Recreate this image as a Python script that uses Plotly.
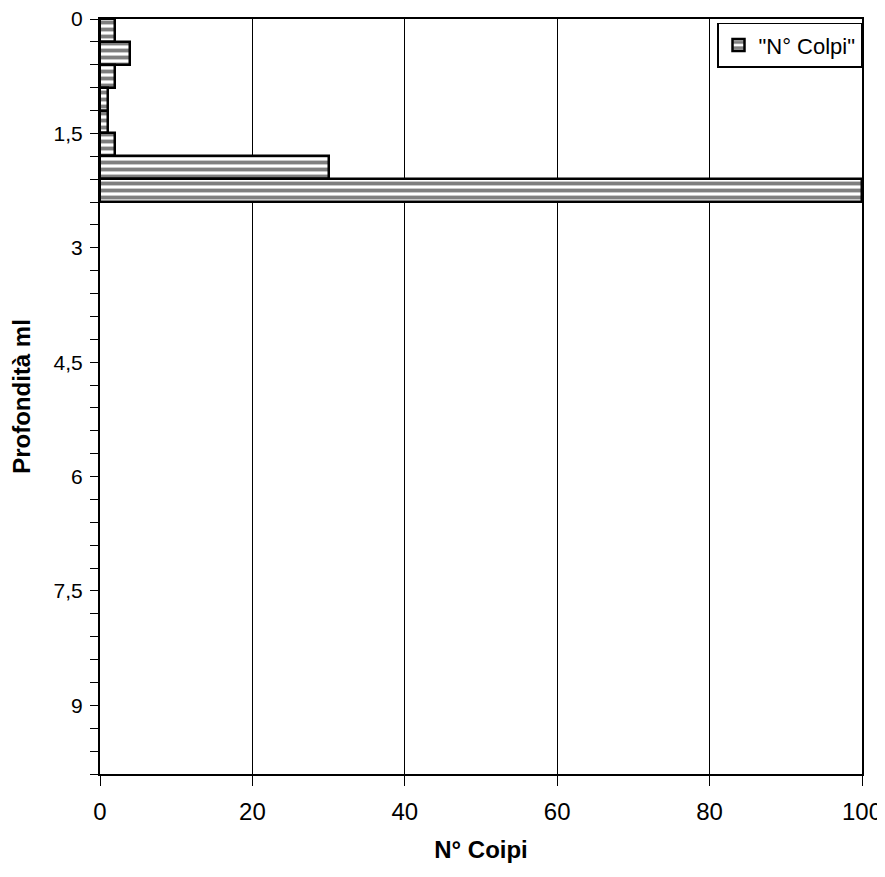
import plotly.graph_objects as go

depth_top = [0.0, 0.3, 0.6, 0.9, 1.2, 1.5, 1.8, 2.1]
blows = [2, 4, 2, 1, 1, 2, 30, 100]
step = 0.3
y_ticks = [0, 1.5, 3, 4.5, 6, 7.5, 9]
y_ticktext = ["0", "1,5", "3", "4,5", "6", "7,5", "9"]
x_ticks = [0, 20, 40, 60, 80, 100]

centers = [d + step / 2 for d in depth_top]

fig = go.Figure()
fig.add_trace(go.Bar(
    x=blows, y=centers, width=[step] * len(blows), orientation="h",
    name='"N° Colpi"',
    marker=dict(color="white", line=dict(color="black", width=2.5),
                pattern=dict(shape="-", fgcolor="black", bgcolor="white",
                             size=7, solidity=0.55)),
))

font = "Liberation Sans, Arial, sans-serif"
fig.update_layout(
    width=877, height=869,
    margin=dict(l=92, r=23, t=11, b=103, autoexpand=False),
    paper_bgcolor="white", plot_bgcolor="white",
    font=dict(family=font, color="black", size=18),
    separators=",.",
    bargap=0,
    showlegend=True,
    legend=dict(x=1, y=0.995, xanchor="right", yanchor="top",
                bordercolor="black", borderwidth=1.5, bgcolor="white",
                font=dict(size=22), itemwidth=30),
    xaxis=dict(range=[0, 100], tickvals=x_ticks, showgrid=True,
               gridcolor="black", gridwidth=1, showline=True,
               linecolor="black", linewidth=2, mirror=True,
               ticks="outside", ticklen=10, tickcolor="black",
               tickfont=dict(size=24), zeroline=False, ticklabelstandoff=5,
               automargin=False, ticklabeloverflow="allow",
               title=dict(text="<b>N° Coipi</b>", font=dict(size=24), standoff=17)),
    yaxis=dict(range=[9.9, 0], tickvals=y_ticks, ticktext=y_ticktext,
               showgrid=False, showline=True, linecolor="black",
               linewidth=2, mirror=True, ticks="outside", ticklen=8,
               tickcolor="black", tickfont=dict(size=21), zeroline=False,
               automargin=False, ticklabelstandoff=3, ticklabeloverflow="allow",
               minor=dict(dtick=0.3, tick0=0, ticks="outside", ticklen=8,
                          tickcolor="black", showgrid=False),
               title=dict(text="<b>Profondità ml</b>", font=dict(size=24), standoff=20)),
)

fig.write_html("out.html")
